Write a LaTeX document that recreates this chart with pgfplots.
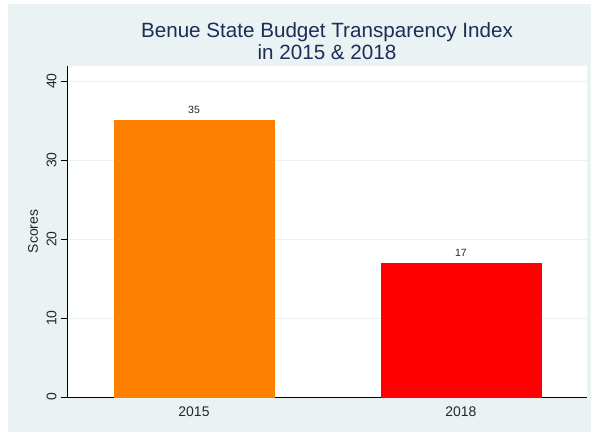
\documentclass[border=0pt]{standalone}
\usepackage{pgfplots}
\pgfplotsset{compat=1.18}
\usepackage{fontspec}
\setmainfont{Liberation Sans}
\definecolor{bg}{RGB}{234,242,243}
\definecolor{gridc}{RGB}{234,242,243}
\definecolor{titlec}{RGB}{28,45,88}
\definecolor{barorange}{RGB}{255,128,0}
\definecolor{barred}{RGB}{255,0,0}
\begin{document}
\begin{tikzpicture}
\useasboundingbox (-67bp,-35bp) rectangle (524bp,397bp);
\fill[white] (-67bp,-35bp) rectangle (524bp,397bp);
\fill[bg] (-59bp,-35bp) rectangle (524bp,393bp);
\fill[white] (0,0) rectangle (520bp,331bp);
\begin{axis}[
  at={(0,0)}, anchor=south west, scale only axis,
  width=520bp, height=331bp,
  xmin=0.5243, xmax=2.472, ymin=0, ymax=41.9,
  axis x line*=bottom, axis y line*=left,
  axis line style={black, line width=0.8bp, -},
  ybar, bar width=160bp, bar shift=0pt,
  ytick={0,10,20,30,40},
  ymajorgrids, grid style={gridc, line width=1bp},
  tick align=outside, major tick length=6bp,
  ytick style={black, line width=0.8bp},
  xtick={1,2}, xticklabels={2015,2018},
  xtick style={draw=none},
  /pgf/number format/assume math mode=true,
  yticklabel style={xshift=-1bp, rotate=90, anchor=south, font=\fontsize{14}{14}\selectfont, text=black!85},
  xticklabel style={font=\fontsize{14}{14}\selectfont, text=black!85},
  ylabel={Scores},
  ylabel style={at={(axis description cs:-0.0654,0.5)}, anchor=center, font=\fontsize{14}{14}\selectfont, text=black!85},
  nodes near coords,
  every node near coord/.append style={font=\fontsize{10.5}{12}\selectfont, text=black!85, yshift=3bp},
]
\addplot[ybar, fill=barorange, draw=barorange] coordinates {(1,35)};
\addplot[ybar, fill=barred, draw=barred] coordinates {(2,17)};
\end{axis}
\node[anchor=base, font=\fontsize{20.7}{22}\selectfont, text=titlec] at (260bp,359bp) {Benue State Budget Transparency Index};
\node[anchor=base, font=\fontsize{20.7}{22}\selectfont, text=titlec] at (260bp,337bp) {in 2015 \& 2018};
\end{tikzpicture}
\end{document}
